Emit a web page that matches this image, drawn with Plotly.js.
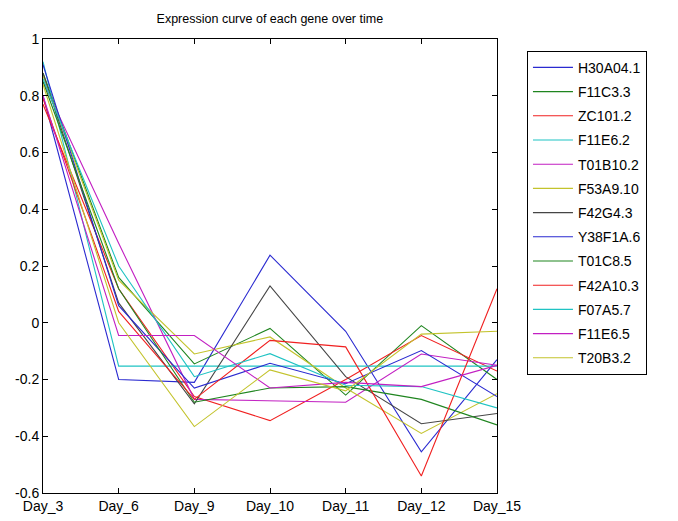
<!DOCTYPE html>
<html>
<head>
<meta charset="utf-8">
<script src="https://cdn.plot.ly/plotly-3.0.1.min.js"></script>
<style>html,body{margin:0;padding:0;background:#fff;}#chart{width:678px;height:521px;}</style>
</head>
<body>
<div id="chart"></div>
<script>
const days = ["Day_3", "Day_6", "Day_9", "Day_10", "Day_11", "Day_12", "Day_15"];
const geneNames = ["H30A04.1", "F11C3.3", "ZC101.2", "F11E6.2", "T01B10.2", "F53A9.10", "F42G4.3", "Y38F1A.6", "T01C8.5", "F42A10.3", "F07A5.7", "F11E6.5", "T20B3.2"];

const H30A04_1 = [0.80, -0.20, -0.21, 0.238, -0.03, -0.455, -0.13];
const F11C3_3  = [0.88, 0.16, -0.145, -0.02, -0.255, -0.01, -0.20];
const ZC101_2  = [0.77, 0.12, -0.26, -0.345, -0.20, -0.045, -0.17];
const F11E6_2  = [0.92, -0.153, -0.153, -0.153, -0.153, -0.153, -0.153];
const T01B10_2 = [0.85, 0.28, -0.27, -0.274, -0.28, -0.11, -0.15];
const F53A9_10 = [0.87, 0.15, -0.11, -0.05, -0.23, -0.39, -0.25];
const F42G4_3  = [0.88, 0.07, -0.286, 0.13, -0.19, -0.356, -0.32];
const Y38F1A_6 = [0.91, 0.06, -0.23, -0.143, -0.215, -0.098, -0.26];
const T01C8_5  = [0.85, 0.12, -0.28, -0.23, -0.225, -0.27, -0.36];
const F42A10_3 = [0.79, 0.04, -0.27, -0.062, -0.085, -0.54, 0.12];
const F07A5_7  = [0.86, 0.20, -0.19, -0.109, -0.22, -0.225, -0.30];
const F11E6_5  = [0.80, -0.045, -0.045, -0.23, -0.21, -0.225, -0.15];
const T20B3_2  = [0.84, 0.0, -0.366, -0.166, -0.24, -0.04, -0.03];

const seriesValues = [H30A04_1, F11C3_3, ZC101_2, F11E6_2, T01B10_2, F53A9_10, F42G4_3, Y38F1A_6, T01C8_5, F42A10_3, F07A5_7, F11E6_5, T20B3_2];
const lineColors = ["#2a2ad0", "#1f851f", "#f02020", "#1fc3c3", "#c21fc2", "#c3c32c", "#454545"];

const yTickVals = [-0.6, -0.4, -0.2, 0, 0.2, 0.4, 0.6, 0.8, 1];
const yTickText = ["-0.6", "-0.4", "-0.2", "0", "0.2", "0.4", "0.6", "0.8", "1"];

const traces = seriesValues.map((vals, i) => ({
  type: "scatter",
  mode: "lines",
  x: days,
  y: vals,
  name: geneNames[i],
  legendgroup: "g" + i,
  line: {color: lineColors[i % lineColors.length], width: 1.1}
}));

const fontFam = "Liberation Sans, Arial, sans-serif";
const layout = {
  width: 678,
  height: 521,
  margin: {l: 43, r: 181, t: 39, b: 28, pad: 0},
  paper_bgcolor: "#ffffff",
  plot_bgcolor: "#ffffff",
  font: {family: fontFam, size: 14, color: "#000"},
  title: {text: "Expression curve of each gene over time", font: {family: fontFam, size: 12.5, color: "#000"}, x: 0.398, xanchor: "center", y: 0.965, yanchor: "middle"},
  showlegend: true,
  legend: {
    x: 1.066, xanchor: "left", y: 0.974, yanchor: "top",
    bgcolor: "#ffffff", bordercolor: "#000", borderwidth: 1,
    font: {family: fontFam, size: 14, color: "#000"},
    tracegroupgap: 3,
    itemwidth: 40
  },
  xaxis: {
    type: "category",
    range: [0, 6],
    showgrid: false, zeroline: false,
    showline: true, linecolor: "#000", linewidth: 1, mirror: "ticks",
    ticks: "inside", ticklen: 5, tickcolor: "#000",
    tickfont: {family: fontFam, size: 14, color: "#000"}
  },
  yaxis: {
    range: [-0.6, 1],
    tickvals: yTickVals, ticktext: yTickText,
    showgrid: false, zeroline: false,
    showline: true, linecolor: "#000", linewidth: 1, mirror: "ticks",
    ticks: "inside", ticklen: 5, tickcolor: "#000",
    tickfont: {family: fontFam, size: 14, color: "#000"}
  }
};

Plotly.newPlot("chart", traces, layout, {displayModeBar: false, staticPlot: true});
</script>
</body>
</html>
